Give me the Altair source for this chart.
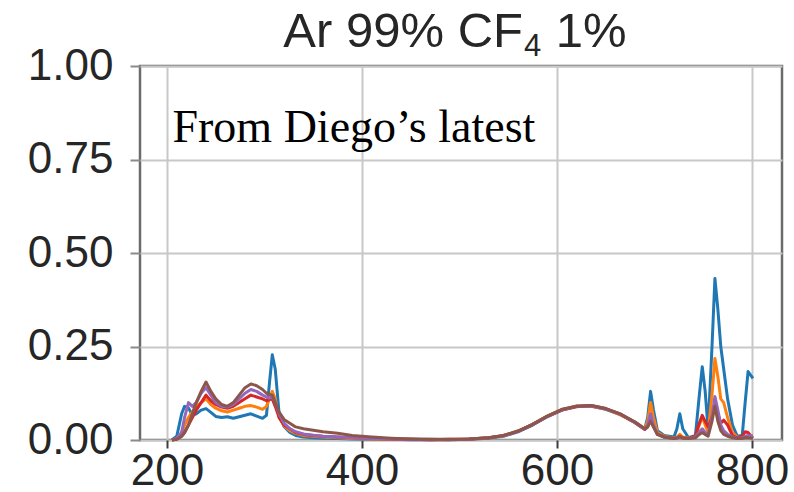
import altair as alt
import pandas as pd

# Wavelength grid (nm) shared by every spectrum
wavelength = [
    205, 210, 215, 218, 222, 226, 230, 235, 240, 245,
    250, 256, 262, 268, 274, 280, 286, 292, 298, 302,
    305, 308, 311, 315, 320, 326, 332, 340, 350, 360,
    375, 390, 410, 430, 450, 470, 490, 510, 530, 545,
    560, 575, 590, 605, 620, 635, 650, 665, 680, 690,
    693, 696, 699, 703, 710, 720, 723, 726, 729, 735,
    742, 746, 749, 752, 755, 759, 762, 765, 768, 771,
    775, 780, 785, 790, 793, 796, 799, 801,
]

# Normalised intensity of each measurement
run_1 = [
    0.000, 0.010, 0.070, 0.090, 0.086, 0.066, 0.070, 0.080, 0.084, 0.074,
    0.063, 0.060, 0.062, 0.058, 0.062, 0.066, 0.070, 0.064, 0.058, 0.066,
    0.150, 0.228, 0.190, 0.070, 0.036, 0.020, 0.012, 0.008, 0.006, 0.005,
    0.004, 0.003, 0.002, 0.002, 0.001, 0.001, 0.001, 0.002, 0.005, 0.010,
    0.022, 0.040, 0.062, 0.080, 0.090, 0.091, 0.082, 0.068, 0.048, 0.030,
    0.060, 0.130, 0.080, 0.025, 0.012, 0.008, 0.030, 0.070, 0.030, 0.006,
    0.012, 0.120, 0.196, 0.130, 0.030, 0.250, 0.432, 0.350, 0.250, 0.190,
    0.110, 0.040, 0.010, 0.012, 0.100, 0.183, 0.172, 0.165,
]
run_2 = [
    0.000, 0.003, 0.020, 0.040, 0.060, 0.075, 0.090, 0.100, 0.110, 0.095,
    0.085, 0.078, 0.075, 0.080, 0.085, 0.090, 0.092, 0.088, 0.082, 0.090,
    0.110, 0.130, 0.110, 0.060, 0.038, 0.025, 0.018, 0.012, 0.010, 0.008,
    0.006, 0.004, 0.003, 0.002, 0.002, 0.001, 0.001, 0.002, 0.006, 0.011,
    0.024, 0.042, 0.064, 0.081, 0.091, 0.090, 0.083, 0.067, 0.047, 0.030,
    0.050, 0.100, 0.060, 0.020, 0.010, 0.005, 0.008, 0.015, 0.008, 0.005,
    0.010, 0.040, 0.062, 0.040, 0.020, 0.120, 0.218, 0.170, 0.110, 0.100,
    0.060, 0.020, 0.008, 0.005, 0.006, 0.008, 0.010, 0.010,
]
run_3 = [
    0.000, 0.002, 0.010, 0.020, 0.040, 0.060, 0.080, 0.100, 0.120, 0.105,
    0.095, 0.088, 0.085, 0.090, 0.100, 0.110, 0.120, 0.115, 0.110, 0.105,
    0.108, 0.110, 0.090, 0.060, 0.040, 0.030, 0.020, 0.015, 0.012, 0.010,
    0.008, 0.006, 0.004, 0.003, 0.002, 0.001, 0.002, 0.003, 0.006, 0.012,
    0.023, 0.041, 0.063, 0.080, 0.089, 0.092, 0.084, 0.069, 0.046, 0.028,
    0.035, 0.055, 0.035, 0.015, 0.008, 0.004, 0.006, 0.010, 0.006, 0.004,
    0.012, 0.045, 0.066, 0.050, 0.035, 0.060, 0.100, 0.070, 0.045, 0.053,
    0.040, 0.012, 0.006, 0.010, 0.022, 0.020, 0.010, 0.005,
]
run_4 = [
    0.000, 0.004, 0.020, 0.060, 0.100, 0.090, 0.100, 0.125, 0.140, 0.120,
    0.100, 0.090, 0.088, 0.095, 0.110, 0.125, 0.135, 0.130, 0.120, 0.115,
    0.112, 0.115, 0.100, 0.070, 0.045, 0.030, 0.022, 0.016, 0.013, 0.010,
    0.008, 0.006, 0.004, 0.003, 0.002, 0.002, 0.001, 0.003, 0.006, 0.011,
    0.023, 0.042, 0.063, 0.081, 0.090, 0.091, 0.083, 0.069, 0.047, 0.029,
    0.040, 0.070, 0.040, 0.015, 0.008, 0.004, 0.006, 0.008, 0.005, 0.004,
    0.008, 0.022, 0.030, 0.020, 0.015, 0.060, 0.116, 0.080, 0.040, 0.025,
    0.015, 0.008, 0.005, 0.006, 0.010, 0.012, 0.010, 0.012,
]
run_5 = [
    0.000, 0.002, 0.010, 0.020, 0.040, 0.070, 0.100, 0.130, 0.155, 0.130,
    0.110, 0.095, 0.090, 0.100, 0.120, 0.140, 0.150, 0.145, 0.135, 0.125,
    0.122, 0.120, 0.100, 0.075, 0.055, 0.045, 0.035, 0.030, 0.026, 0.022,
    0.018, 0.012, 0.008, 0.005, 0.003, 0.002, 0.002, 0.003, 0.006, 0.012,
    0.024, 0.042, 0.064, 0.082, 0.090, 0.092, 0.084, 0.070, 0.048, 0.030,
    0.035, 0.050, 0.035, 0.015, 0.008, 0.004, 0.005, 0.008, 0.005, 0.004,
    0.006, 0.015, 0.020, 0.015, 0.010, 0.050, 0.090, 0.050, 0.025, 0.015,
    0.010, 0.006, 0.004, 0.004, 0.006, 0.006, 0.005, 0.005,
]

series_names = ["run 1", "run 2", "run 3", "run 4", "run 5"]
series_values = [run_1, run_2, run_3, run_4, run_5]
series_colors = ["#1f77b4", "#ff7f0e", "#d62728", "#9467bd", "#8c564b"]

x_ticks = [200, 400, 600, 800]
y_ticks = [0.0, 0.25, 0.5, 0.75, 1.0]

# Heading pieces: main text, subscript, trailing text
title_main = "Ar 99% CF"
title_sub = "4"
title_tail = "1%"
note_text = "From Diego\u2019s latest"

rows = []
for name, vals in zip(series_names, series_values):
    for k, (w, v) in enumerate(zip(wavelength, vals)):
        rows.append({"series": name, "wl": w, "val": v, "idx": k})
df = pd.DataFrame(rows)

note = pd.DataFrame([{"x": 205.6, "y": 0.797, "t": note_text}])

PLOT_W, PLOT_H = 642, 374

# Arial-metric advance widths (em) used to centre the composed heading
ADV = {"A": 0.667, "r": 0.333, " ": 0.278, "9": 0.556, "%": 0.889, "C": 0.722,
       "F": 0.611, "4": 0.556, "1": 0.556}
T_SIZE, S_SIZE = 49, 31
w_main = sum(ADV[c] for c in title_main) * T_SIZE
w_sub = sum(ADV[c] for c in title_sub) * S_SIZE + 2
w_gap = ADV[" "] * T_SIZE
w_tail = sum(ADV[c] for c in title_tail) * T_SIZE
start = PLOT_W / 2 - 6 - (w_main + w_sub + w_gap + w_tail) / 2
base = -19

def heading(text, size, x0, y0):
    return alt.Chart(pd.DataFrame([{"t": text}])).mark_text(
        font="Liberation Sans", fontSize=size, align="left", baseline="alphabetic",
        color="#262626",
    ).encode(x=alt.value(x0), y=alt.value(y0), text="t:N")

lines = alt.Chart(df).mark_line(strokeWidth=3, strokeJoin="round").encode(
    x=alt.X("wl:Q", scale=alt.Scale(domain=[172.3, 830.8], nice=False, zero=False),
            axis=alt.Axis(values=x_ticks, title=None, format="d", tickSize=8,
                          labelPadding=1, tickColor="#3c3c3c")),
    y=alt.Y("val:Q", scale=alt.Scale(domain=[0, 1], nice=False),
            axis=alt.Axis(values=y_ticks, title=None, format=".2f", tickSize=10,
                          labelPadding=17, tickColor="#8a8a8a")),
    color=alt.Color("series:N", scale=alt.Scale(domain=series_names, range=series_colors),
                    legend=None),
    order=alt.Order("idx:Q"),
)

label = alt.Chart(note).mark_text(
    font="Liberation Serif", fontSize=46, align="left", baseline="alphabetic", color="black"
).encode(x="x:Q", y="y:Q", text="t:N")

chart = (
    alt.layer(
        lines,
        label,
        heading(title_main, T_SIZE, start, base),
        heading(title_sub, S_SIZE, start + w_main + 1, base + 9),
        heading(title_tail, T_SIZE, start + w_main + w_sub + w_gap, base),
    )
    .properties(
        width=PLOT_W,
        height=PLOT_H,
        autosize=alt.AutoSizeParams(type="none"),
        padding={"left": 140, "top": 66, "right": 12, "bottom": 52},
    )
    .configure_view(stroke="#6b6b6b", strokeWidth=2.5)
    .configure_axis(
        domain=False,
        grid=True,
        gridColor="#c8c8c8",
        gridWidth=2,
        tickWidth=2,
        labelFont="Liberation Sans",
        labelFontSize=44,
        labelColor="#262626",
    )
)

chart.save("out.html", embed_options={"renderer": "svg", "actions": False})
